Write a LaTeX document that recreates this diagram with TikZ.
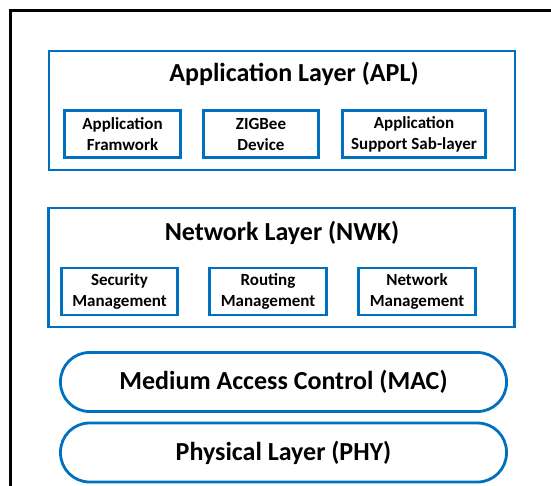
\documentclass[tikz,border=0pt]{standalone}
\usepackage{fontspec}
\setmainfont{Carlito}
\definecolor{layerblue}{RGB}{0,112,192}
\tikzset{
  layerbox/.style={draw=layerblue, line width=2.8pt, inner sep=0pt},
  subbox/.style={draw=layerblue, line width=2.8pt, inner sep=0pt, align=center,
    font=\bfseries\fontsize{17}{21}\selectfont},
  pillbox/.style={draw=layerblue, line width=2.8pt, inner sep=0pt,
    font=\bfseries\fontsize{26}{30}\selectfont},
  titletext/.style={inner sep=0pt, font=\bfseries\fontsize{26}{30}\selectfont},
}
\begin{document}
\begin{tikzpicture}[x=1pt,y=-1pt]
  \useasboundingbox (0,0) rectangle (551,486);
  \clip (0,0) rectangle (551,486);
  % outer frame, running past the right and lower edges
  \draw[line width=3pt] (10.5,10.5) rectangle (600,600);

  % application layer
  \node[layerbox, minimum width=466pt, minimum height=119pt] (apl) at (282,110.5) {};
  \node[titletext] (apltitle) at (294,74) {Application Layer (APL)};
  \node[subbox, minimum width=116pt, minimum height=47pt] (fw) at (122.5,134) {Application\\Framwork};
  \node[subbox, minimum width=115pt, minimum height=47pt] (zdev) at (261,134) {ZIGBee\\Device};
  \node[subbox, minimum width=143pt, minimum height=47pt] (aps) at (414,134) {Application\\Support Sab-layer};

  % network layer
  \node[layerbox, minimum width=466pt, minimum height=119pt] (nwk) at (281.5,267.5) {};
  \node[titletext] (nwktitle) at (282,233) {Network Layer (NWK)};
  \node[subbox, minimum width=116pt, minimum height=47pt] (sec) at (119.5,291.5) {Security\\Management};
  \node[subbox, minimum width=117pt, minimum height=47pt] (rout) at (268,291.5) {Routing\\Management};
  \node[subbox, minimum width=117pt, minimum height=47pt] (netm) at (417,291.5) {Network\\Management};

  % lower layers
  \node[pillbox, minimum width=446pt, minimum height=59pt, rounded corners=29pt] (mac) at (283.5,382) {Medium Access Control (MAC)};
  \node[pillbox, minimum width=446pt, minimum height=59pt, rounded corners=29pt] (phy) at (283.5,452.5) {Physical Layer (PHY)};
\end{tikzpicture}
\end{document}
